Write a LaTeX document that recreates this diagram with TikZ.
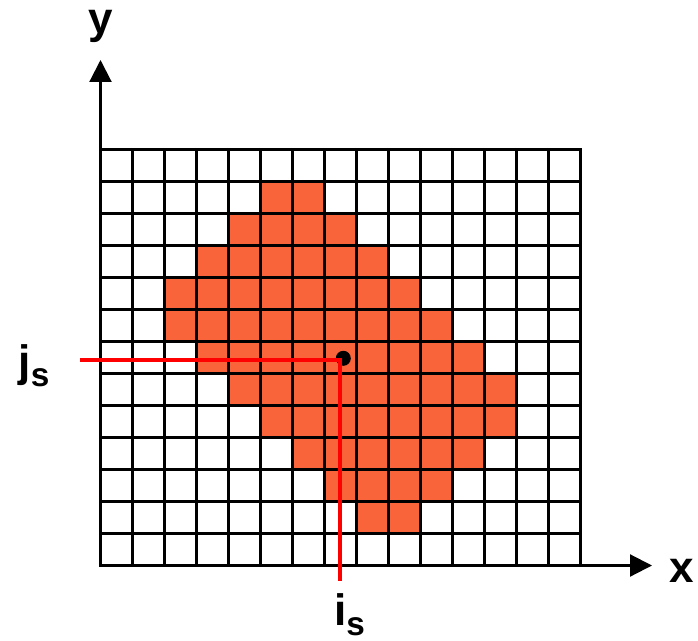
\documentclass[tikz,border=0pt]{standalone}
\usepackage{fontspec}
\setmainfont{Liberation Sans}
\usetikzlibrary{arrows.meta}
\definecolor{cellorange}{RGB}{249,100,59}
\definecolor{markred}{RGB}{255,0,0}
\tikzset{
  cellfill/.style={fill=cellorange},
  gridline/.style={line width=2.25pt, line cap=rect, black},
  axisline/.style={line width=1.6pt, black, -{Triangle[length=16.5pt,width=16.5pt]}},
  redline/.style={line width=2.3pt, markred},
  lbl/.style={inner sep=0pt, anchor=base, font=\bfseries\fontsize{33}{33}\selectfont}
}
\newcommand{\subs}[1]{\raisebox{-8pt}{\fontsize{25}{25}\selectfont #1}}
\begin{document}
\begin{tikzpicture}[x=0.75pt,y=-0.75pt]
\useasboundingbox (0,0) rectangle (698,641);
% filled cells
\foreach \r/\a/\b in {1/5/6, 2/4/7, 3/3/8, 4/2/9, 5/2/10, 6/3/11, 7/4/12, 8/5/12, 9/6/11, 10/7/10, 11/8/9}
  \fill[cellfill] ({100.5+32*\a},{149.5+32*\r}) rectangle ({100.5+32*(\b+1)},{149.5+32*(\r+1)});
% grid
\foreach \i in {0,...,15}
  \draw[gridline] ({100.5+32*\i},149.5) -- ({100.5+32*\i},565.5);
\foreach \j in {0,...,13}
  \draw[gridline] (100.5,{149.5+32*\j}) -- (580.5,{149.5+32*\j});
% axes
\coordinate (O) at (100.5,565.5);
\coordinate (ytip) at (100.5,60);
\coordinate (xtip) at (652,565.5);
\draw[axisline] (O) -- (ytip);
\draw[axisline] (O) -- (xtip);
% point and guide lines
\coordinate (S) at (340,360);
\coordinate (jstart) at (80,360);
\coordinate (iend) at (340,581);
\fill[black] (343.3,358.3) circle (7.5);
\draw[redline] (jstart) -- (S) -- (iend);
% labels
\node[lbl] (ylab) at (101,34) {y};
\node[lbl] (xlab) at (682,582) {x};
\node[lbl] (jlab) at (34,376) {j\subs{s}};
\node[lbl] (ilab) at (349.5,625) {i\subs{s}};
\end{tikzpicture}
\end{document}
